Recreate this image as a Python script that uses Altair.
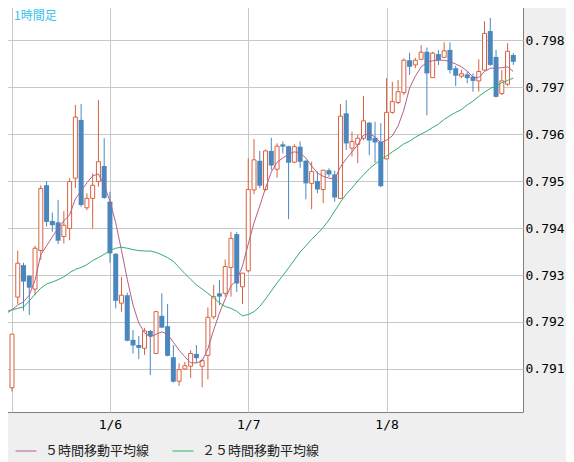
import altair as alt
import pandas as pd

# ---- data (hourly candles) ----
opens = [
    0.79060, 0.79253, 0.79321, 0.79298, 0.79270, 0.79352, 0.79491, 0.79415, 0.79412, 0.79382,
    0.79399, 0.79506, 0.79630, 0.79443, 0.79463, 0.79499, 0.79532, 0.79456, 0.79345, 0.79240,
    0.79257, 0.79162, 0.79151, 0.79144, 0.79181, 0.79133, 0.79213, 0.79191, 0.79125, 0.79074,
    0.79100, 0.79106, 0.79132, 0.79106, 0.79129, 0.79211, 0.79261, 0.79261, 0.79316, 0.79387,
    0.79275, 0.79309, 0.79481, 0.79543, 0.79482, 0.79564, 0.79525, 0.79578, 0.79574, 0.79540,
    0.79573, 0.79543, 0.79495, 0.79500, 0.79482, 0.79523, 0.79514, 0.79463, 0.79644, 0.79570,
    0.79578, 0.79591, 0.79624, 0.79592, 0.79584, 0.79547, 0.79646, 0.79667, 0.79688, 0.79757,
    0.79747, 0.79759, 0.79775, 0.79720, 0.79770, 0.79763, 0.79779, 0.79740, 0.79723, 0.79727,
    0.79722, 0.79713, 0.79736, 0.79819, 0.79764, 0.79686, 0.79706, 0.79768,
]
highs = [
    0.79174, 0.79352, 0.79326, 0.79300, 0.79362, 0.79491, 0.79500, 0.79433, 0.79460, 0.79436,
    0.79506, 0.79662, 0.79664, 0.79474, 0.79516, 0.79672, 0.79591, 0.79477, 0.79347, 0.79296,
    0.79262, 0.79183, 0.79170, 0.79187, 0.79183, 0.79223, 0.79261, 0.79238, 0.79151, 0.79112,
    0.79115, 0.79140, 0.79151, 0.79122, 0.79231, 0.79279, 0.79289, 0.79333, 0.79392, 0.79391,
    0.79304, 0.79548, 0.79589, 0.79564, 0.79567, 0.79592, 0.79580, 0.79584, 0.79575, 0.79578,
    0.79584, 0.79545, 0.79541, 0.79520, 0.79524, 0.79527, 0.79522, 0.79664, 0.79672, 0.79605,
    0.79598, 0.79681, 0.79626, 0.79626, 0.79623, 0.79719, 0.79711, 0.79715, 0.79761, 0.79773,
    0.79762, 0.79789, 0.79784, 0.79775, 0.79779, 0.79795, 0.79795, 0.79745, 0.79736, 0.79734,
    0.79729, 0.79759, 0.79840, 0.79847, 0.79779, 0.79736, 0.79793, 0.79772,
]
lows = [
    0.79052, 0.79238, 0.79224, 0.79215, 0.79257, 0.79332, 0.79403, 0.79392, 0.79366, 0.79367,
    0.79374, 0.79485, 0.79445, 0.79438, 0.79399, 0.79488, 0.79462, 0.79326, 0.79229, 0.79222,
    0.79159, 0.79133, 0.79121, 0.79130, 0.79087, 0.79132, 0.79187, 0.79127, 0.79071, 0.79064,
    0.79098, 0.79081, 0.79113, 0.79061, 0.79078, 0.79206, 0.79236, 0.79254, 0.79254, 0.79264,
    0.79238, 0.79306, 0.79472, 0.79485, 0.79479, 0.79523, 0.79507, 0.79559, 0.79419, 0.79538,
    0.79528, 0.79461, 0.79440, 0.79474, 0.79453, 0.79509, 0.79456, 0.79462, 0.79566, 0.79552,
    0.79538, 0.79587, 0.79555, 0.79539, 0.79487, 0.79546, 0.79643, 0.79664, 0.79683, 0.79726,
    0.79740, 0.79757, 0.79640, 0.79719, 0.79747, 0.79763, 0.79729, 0.79702, 0.79719, 0.79708,
    0.79690, 0.79690, 0.79735, 0.79745, 0.79678, 0.79683, 0.79702, 0.79747,
]
closes = [
    0.79174, 0.79325, 0.79286, 0.79273, 0.79357, 0.79484, 0.79413, 0.79406, 0.79373, 0.79406,
    0.79499, 0.79636, 0.79449, 0.79463, 0.79491, 0.79541, 0.79464, 0.79346, 0.79245, 0.79257,
    0.79160, 0.79150, 0.79145, 0.79181, 0.79170, 0.79222, 0.79188, 0.79128, 0.79073, 0.79099,
    0.79107, 0.79133, 0.79123, 0.79118, 0.79210, 0.79254, 0.79254, 0.79318, 0.79378, 0.79282,
    0.79304, 0.79482, 0.79545, 0.79490, 0.79564, 0.79533, 0.79574, 0.79573, 0.79539, 0.79573,
    0.79541, 0.79495, 0.79520, 0.79482, 0.79523, 0.79514, 0.79465, 0.79638, 0.79580, 0.79584,
    0.79591, 0.79628, 0.79586, 0.79582, 0.79489, 0.79646, 0.79669, 0.79690, 0.79757, 0.79743,
    0.79757, 0.79774, 0.79729, 0.79772, 0.79757, 0.79777, 0.79736, 0.79724, 0.79728, 0.79719,
    0.79713, 0.79733, 0.79814, 0.79747, 0.79679, 0.79713, 0.79776, 0.79754,
]
# moving averages, starting one bar before the first visible candle
ma5 = [
    0.79218,
    0.79226, 0.79236, 0.79243, 0.79257, 0.79289, 0.79343, 0.79362, 0.79381, 0.79400, 0.79415,
    0.79428, 0.79462, 0.79479, 0.79496, 0.79511, 0.79515, 0.79491, 0.79457, 0.79411, 0.79353,
    0.79291, 0.79236, 0.79198, 0.79177, 0.79168, 0.79174, 0.79179, 0.79174, 0.79157, 0.79140,
    0.79126, 0.79113, 0.79113, 0.79117, 0.79143, 0.79183, 0.79219, 0.79249, 0.79277, 0.79289,
    0.79319, 0.79366, 0.79411, 0.79447, 0.79485, 0.79519, 0.79540, 0.79549, 0.79557, 0.79562,
    0.79560, 0.79549, 0.79532, 0.79517, 0.79510, 0.79506, 0.79504, 0.79530, 0.79547, 0.79562,
    0.79577, 0.79598, 0.79600, 0.79594, 0.79581, 0.79587, 0.79596, 0.79617, 0.79651, 0.79698,
    0.79723, 0.79743, 0.79752, 0.79756, 0.79757, 0.79757, 0.79754, 0.79749, 0.79743, 0.79734,
    0.79721, 0.79720, 0.79733, 0.79740, 0.79740, 0.79741, 0.79743, 0.79733,
]
ma25 = [
    0.79222,
    0.79226, 0.79229, 0.79232, 0.79245, 0.79259, 0.79272, 0.79281, 0.79285, 0.79290, 0.79296,
    0.79305, 0.79312, 0.79316, 0.79322, 0.79331, 0.79337, 0.79344, 0.79352, 0.79357, 0.79359,
    0.79357, 0.79354, 0.79352, 0.79351, 0.79351, 0.79348, 0.79343, 0.79337, 0.79329, 0.79316,
    0.79303, 0.79291, 0.79279, 0.79270, 0.79261, 0.79251, 0.79241, 0.79233, 0.79229, 0.79223,
    0.79213, 0.79216, 0.79222, 0.79233, 0.79249, 0.79266, 0.79283, 0.79299, 0.79315, 0.79332,
    0.79349, 0.79362, 0.79376, 0.79388, 0.79401, 0.79417, 0.79436, 0.79455, 0.79472, 0.79485,
    0.79500, 0.79513, 0.79526, 0.79536, 0.79545, 0.79553, 0.79562, 0.79570, 0.79579, 0.79585,
    0.79593, 0.79600, 0.79606, 0.79614, 0.79621, 0.79631, 0.79639, 0.79646, 0.79652, 0.79662,
    0.79670, 0.79680, 0.79689, 0.79697, 0.79702, 0.79709, 0.79714, 0.79719,
]
x_ticks = [0, 17, 41, 65]
x_labels = ["", "1/6", "1/7", "1/8"]
y_ticks = [0.791, 0.792, 0.793, 0.794, 0.795, 0.796, 0.797, 0.798]
series_names = ["５時間移動平均線", "２５時間移動平均線"]
title_text = ["1時間足"]

RED = "#d9623e"
BLUE = "#4a87bf"
C5 = "#b35f8c"
C25 = "#2fb06e"
GRID = "#c8c8c8"

n = len(opens)
candles = pd.DataFrame({"idx": list(range(n)), "open": opens, "high": highs,
                        "low": lows, "close": closes})
ma_idx = list(range(-1, len(ma5) - 1))
ma_df = pd.concat([
    pd.DataFrame({"idx": ma_idx, "value": ma5, "series": series_names[0]}),
    pd.DataFrame({"idx": ma_idx[:len(ma25)], "value": ma25, "series": series_names[1]}),
], ignore_index=True)

label_expr = "''"
for v, lab in zip(reversed(x_ticks), reversed(x_labels)):
    label_expr = f"datum.value == {v} ? '{lab}' : ({label_expr})"

xscale = alt.Scale(domain=[-1.04, 87.81], nice=False, zero=False)
yscale = alt.Scale(domain=[0.790085, 0.79883], nice=False, zero=False)

x_axis = alt.Axis(values=x_ticks, labelExpr=label_expr, grid=True, gridColor=GRID,
                  gridOpacity=1, domain=False, ticks=False, labelPadding=6,
                  labelFont="DejaVu Sans Mono", labelFontSize=13, labelColor="#000000",
                  labelFlush=False, labelOverlap=False, title=None)
y_axis = alt.Axis(values=y_ticks, format=".3f", orient="right", grid=True, gridColor=GRID,
                  gridOpacity=1, domain=False, ticks=False, labelPadding=2,
                  labelFont="DejaVu Sans Mono", labelFontSize=13, labelColor="#000000",
                  labelBaseline="middle", title=None)

X = alt.X("idx:Q", scale=xscale, axis=x_axis)

base = alt.Chart(candles)
up = "datum.close >= datum.open"

wicks = base.mark_rule(strokeWidth=1).encode(
    x=X,
    y=alt.Y("low:Q", scale=yscale, axis=y_axis),
    y2="high:Q",
    color=alt.condition(up, alt.value(RED), alt.value(BLUE)),
)
up_bodies = base.transform_filter(up).mark_bar(
    size=4, fill="white", stroke=RED, strokeWidth=1
).encode(
    x=X,
    y=alt.Y("open:Q", scale=yscale, axis=y_axis),
    y2="close:Q",
)
down_bodies = base.transform_filter("!(" + up + ")").mark_bar(
    size=5, color=BLUE
).encode(
    x=X,
    y=alt.Y("open:Q", scale=yscale, axis=y_axis),
    y2="close:Q",
)
lines = alt.Chart(ma_df).mark_line(strokeWidth=1).encode(
    x=X,
    y=alt.Y("value:Q", scale=yscale, axis=y_axis),
    color=alt.Color("series:N",
                    scale=alt.Scale(domain=series_names, range=[C5, C25]),
                    sort=series_names,
                    legend=alt.Legend(orient="none", legendX=14, legendY=439,
                                      direction="horizontal", title=None,
                                      symbolType="stroke", symbolSize=441,
                                      symbolStrokeWidth=1, labelFont="Noto Sans CJK JP",
                                      labelFontSize=13, labelColor="#222222",
                                      labelOffset=8, columnPadding=20, padding=0)),
    order=alt.Order("idx:Q"),
)
title = alt.Chart(pd.DataFrame({"t": title_text})).mark_text(
    align="left", baseline="middle", font="Noto Sans CJK JP", fontSize=12, color="#33c3ee"
).encode(text="t:N", x=alt.value(13), y=alt.value(15))

chart = alt.layer(wicks, up_bodies, down_bodies, lines, title).properties(
    width=522, height=411,
    autosize=alt.AutoSizeParams(type="none"),
    padding={"left": -7, "top": -7, "right": 43, "bottom": 50},
    background="#efefef",
).configure_view(fill="white", stroke="#808080", strokeWidth=1)

chart.save("out.html", embed_options={"renderer": "svg", "actions": False})
